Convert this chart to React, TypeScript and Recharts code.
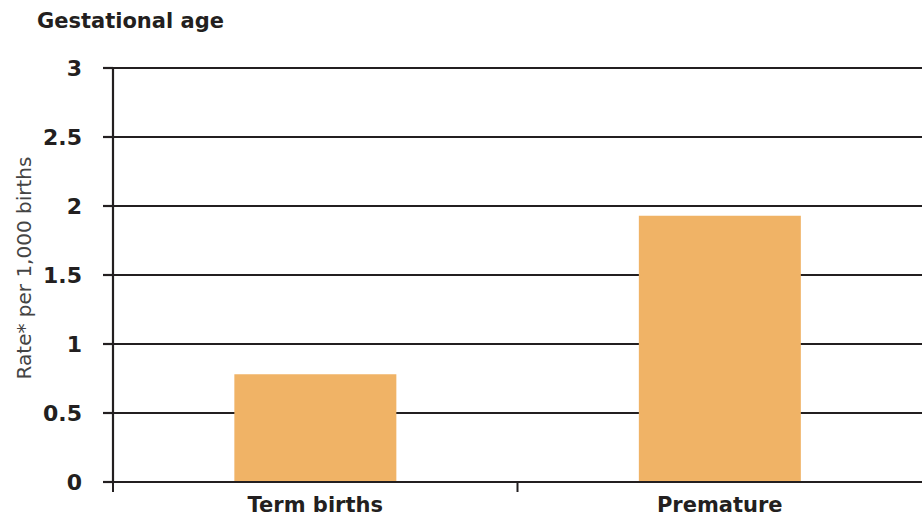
import React from 'react';
import { BarChart, Bar, XAxis, YAxis, CartesianGrid, Label } from 'recharts';

const categories = ['Term births', 'Premature'];
const rates = [0.78, 1.93];
const yTicks = [0, 0.5, 1, 1.5, 2, 2.5, 3];

const data = categories.map((name, i) => ({ name, rate: rates[i] }));

const W = 922;
const H = 516;
const AXIS_W = 113;
const INK = '#231f20';
const FONT = '"DejaVu Sans", "Open Sans", sans-serif';

// band width of one category, used to put the x ticks on the category borders
const band = (W - AXIS_W) / categories.length;

const CategoryTick = (props: any) => {
    const { x, y, payload } = props;
    const left = x - band / 2;
    return (
        <g>
            <line x1={left} y1={y - 8} x2={left} y2={y + 2} stroke={INK} strokeWidth={2} />
            <text x={x} y={y + 22} textAnchor="middle" fontSize={21} fontWeight={700} fill={INK} fontFamily={FONT}>
                {payload.value}
            </text>
        </g>
    );
};

export default function App() {
    return (
        <div style={{ position: 'absolute', left: 0, top: 0, width: W, height: H, background: '#fff', fontFamily: FONT }}>
            <div style={{ position: 'absolute', left: 37, top: 9, fontSize: 21, fontWeight: 700, color: INK }}>
                Gestational age
            </div>
            <BarChart width={W} height={H} data={data} margin={{ top: 68, right: 0, bottom: 0, left: 0 }} barCategoryGap="30%">
                <CartesianGrid horizontal vertical={false} stroke={INK} strokeWidth={2.2} />
                <XAxis
                    dataKey="name"
                    axisLine={{ stroke: INK, strokeWidth: 2.2 }}
                    tickLine={false}
                    tick={<CategoryTick />}
                    height={34}
                    interval={0}
                />
                <YAxis
                    width={AXIS_W}
                    domain={[0, 3]}
                    ticks={yTicks}
                    interval={0}
                    axisLine={{ stroke: INK, strokeWidth: 2.2 }}
                    tickLine={{ stroke: INK, strokeWidth: 2.2 }}
                    tickSize={10}
                    tickMargin={21}
                    tick={{ fontSize: 22, fontWeight: 700, fill: INK, fontFamily: FONT }}
                >
                    <Label
                        value="Rate* per 1,000 births"
                        angle={-90}
                        position="insideLeft"
                        offset={24}
                        dy={-7}
                        style={{ textAnchor: 'middle', fontSize: 20, fill: '#444', fontWeight: 400, fontFamily: FONT }}
                    />
                </YAxis>
                <Bar dataKey="rate" fill="#f0b366" isAnimationActive={false} />
            </BarChart>
        </div>
    );
}
